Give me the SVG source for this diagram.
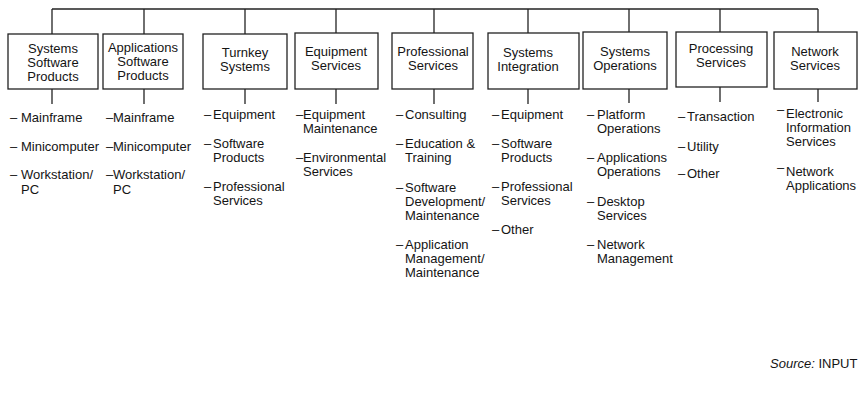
<svg xmlns="http://www.w3.org/2000/svg" width="860" height="404" viewBox="0 0 860 404">
<style>
text{font-family:"Liberation Sans",Arial,sans-serif;font-size:13px;fill:#141414}
.lbl{text-anchor:middle}
rect{fill:#fff;stroke:#222;stroke-width:1.3}
line{stroke:#222;stroke-width:1.3}
</style>
<rect x="0" y="0" width="860" height="404" style="stroke:none;fill:#fff"/>
<g id="connectors">
<line x1="52" y1="9" x2="818" y2="9"/>
<line x1="52" y1="9" x2="52" y2="34"/><line x1="52" y1="89" x2="52" y2="104"/>
<line x1="144" y1="9" x2="144" y2="34"/><line x1="144" y1="89" x2="144" y2="104"/>
<line x1="245" y1="9" x2="245" y2="34"/><line x1="245" y1="89" x2="245" y2="104"/>
<line x1="336" y1="9" x2="336" y2="33"/><line x1="336" y1="89" x2="336" y2="104"/>
<line x1="434" y1="9" x2="434" y2="33"/><line x1="434" y1="89" x2="434" y2="104"/>
<line x1="528" y1="9" x2="528" y2="33"/><line x1="528" y1="89" x2="528" y2="104"/>
<line x1="629" y1="9" x2="629" y2="32"/><line x1="629" y1="89" x2="629" y2="103"/>
<line x1="720" y1="9" x2="720" y2="32"/><line x1="720" y1="87" x2="720" y2="102"/>
<line x1="818" y1="9" x2="818" y2="32"/><line x1="818" y1="89" x2="818" y2="102"/>
</g>
<g id="n1">
<rect x="8" y="34" width="90" height="55"/>
<text class="lbl"><tspan x="53" y="53">Systems</tspan><tspan x="53" y="67">Software</tspan><tspan x="53" y="81">Products</tspan></text>
<text><tspan x="10" y="122">–</tspan><tspan x="21" y="122">Mainframe</tspan></text>
<text><tspan x="10" y="151">–</tspan><tspan x="21" y="151">Minicomputer</tspan></text>
<text><tspan x="10" y="179">–</tspan><tspan x="21" y="179">Workstation/</tspan><tspan x="21" y="194">PC</tspan></text>
</g>
<g id="n2">
<rect x="103" y="34" width="80" height="55"/>
<text class="lbl"><tspan x="143" y="52">Applications</tspan><tspan x="143" y="66">Software</tspan><tspan x="143" y="80">Products</tspan></text>
<text><tspan x="106" y="122">–</tspan><tspan x="113" y="122">Mainframe</tspan></text>
<text><tspan x="106" y="151">–</tspan><tspan x="113" y="151">Minicomputer</tspan></text>
<text><tspan x="106" y="179">–</tspan><tspan x="113" y="179">Workstation/</tspan><tspan x="113" y="194">PC</tspan></text>
</g>
<g id="n3">
<rect x="203" y="34" width="84" height="55"/>
<text class="lbl"><tspan x="245" y="57">Turnkey</tspan><tspan x="245" y="71">Systems</tspan></text>
<text><tspan x="204" y="119">–</tspan><tspan x="213" y="119">Equipment</tspan></text>
<text><tspan x="204" y="148">–</tspan><tspan x="213" y="148">Software</tspan><tspan x="213" y="162">Products</tspan></text>
<text><tspan x="204" y="191">–</tspan><tspan x="213" y="191">Professional</tspan><tspan x="213" y="205">Services</tspan></text>
</g>
<g id="n4">
<rect x="295" y="33" width="83" height="56"/>
<text class="lbl"><tspan x="336" y="56">Equipment</tspan><tspan x="336" y="70">Services</tspan></text>
<text><tspan x="296" y="119">–</tspan><tspan x="303" y="119">Equipment</tspan><tspan x="303" y="133">Maintenance</tspan></text>
<text><tspan x="296" y="162">–</tspan><tspan x="303" y="162">Environmental</tspan><tspan x="303" y="176">Services</tspan></text>
</g>
<g id="n5">
<rect x="392" y="33" width="81" height="56"/>
<text class="lbl"><tspan x="433" y="56">Professional</tspan><tspan x="433" y="70">Services</tspan></text>
<text><tspan x="396" y="119">–</tspan><tspan x="405" y="119">Consulting</tspan></text>
<text><tspan x="396" y="148">–</tspan><tspan x="405" y="148">Education &amp;</tspan><tspan x="405" y="162">Training</tspan></text>
<text><tspan x="396" y="192">–</tspan><tspan x="405" y="192">Software</tspan><tspan x="405" y="206">Development/</tspan><tspan x="405" y="220">Maintenance</tspan></text>
<text><tspan x="396" y="249">–</tspan><tspan x="405" y="249">Application</tspan><tspan x="405" y="263">Management/</tspan><tspan x="405" y="277">Maintenance</tspan></text>
</g>
<g id="n6">
<rect x="488" y="33" width="91" height="56"/>
<text class="lbl"><tspan x="528" y="57">Systems</tspan><tspan x="528" y="71">Integration</tspan></text>
<text><tspan x="492" y="119">–</tspan><tspan x="501" y="119">Equipment</tspan></text>
<text><tspan x="492" y="148">–</tspan><tspan x="501" y="148">Software</tspan><tspan x="501" y="162">Products</tspan></text>
<text><tspan x="492" y="191">–</tspan><tspan x="501" y="191">Professional</tspan><tspan x="501" y="205">Services</tspan></text>
<text><tspan x="492" y="234">–</tspan><tspan x="501" y="234">Other</tspan></text>
</g>
<g id="n7">
<rect x="583" y="32" width="84" height="57"/>
<text class="lbl"><tspan x="625" y="56">Systems</tspan><tspan x="625" y="70">Operations</tspan></text>
<text><tspan x="587" y="119">–</tspan><tspan x="597" y="119">Platform</tspan><tspan x="597" y="133">Operations</tspan></text>
<text><tspan x="587" y="162">–</tspan><tspan x="597" y="162">Applications</tspan><tspan x="597" y="176">Operations</tspan></text>
<text><tspan x="587" y="206">–</tspan><tspan x="597" y="206">Desktop</tspan><tspan x="597" y="220">Services</tspan></text>
<text><tspan x="587" y="249">–</tspan><tspan x="597" y="249">Network</tspan><tspan x="597" y="263">Management</tspan></text>
</g>
<g id="n8">
<rect x="676" y="32" width="91" height="55"/>
<text class="lbl"><tspan x="721" y="53">Processing</tspan><tspan x="721" y="67">Services</tspan></text>
<text><tspan x="678" y="121">–</tspan><tspan x="687" y="121">Transaction</tspan></text>
<text><tspan x="678" y="151">–</tspan><tspan x="687" y="151">Utility</tspan></text>
<text><tspan x="678" y="178">–</tspan><tspan x="687" y="178">Other</tspan></text>
</g>
<g id="n9">
<rect x="774" y="32" width="83" height="57"/>
<text class="lbl"><tspan x="815" y="56">Network</tspan><tspan x="815" y="70">Services</tspan></text>
<text><tspan x="777" y="114">–</tspan><tspan x="786" y="118">Electronic</tspan><tspan x="786" y="132">Information</tspan><tspan x="786" y="146">Services</tspan></text>
<text><tspan x="777" y="172">–</tspan><tspan x="786" y="176">Network</tspan><tspan x="786" y="190">Applications</tspan></text>
</g>
<text x="770" y="368"><tspan font-style="italic">Source:</tspan> INPUT</text>
</svg>
